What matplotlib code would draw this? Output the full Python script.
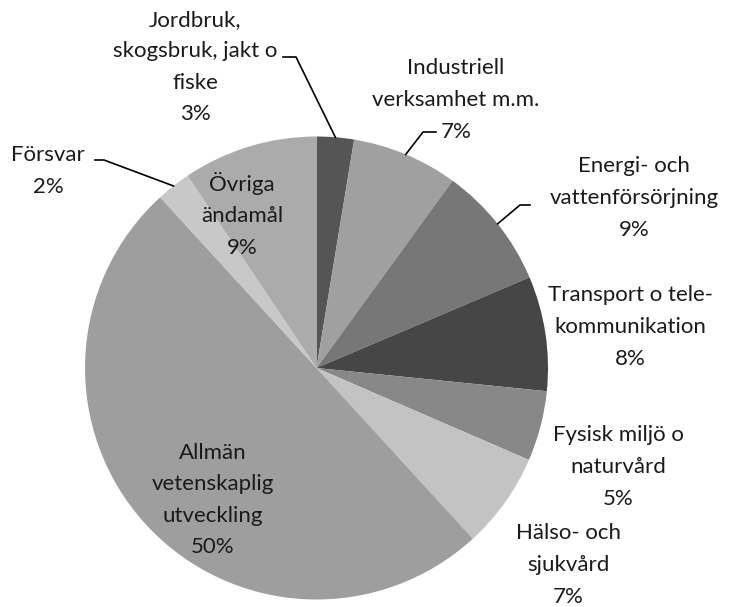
import numpy as np
import matplotlib.pyplot as plt

labels = ["Jordbruk,\nskogsbruk, jakt o\nfiske", "Industriell\nverksamhet m.m.",
          "Energi- och\nvattenförsörjning", "Transport o tele-\nkommunikation",
          "Fysisk miljö o\nnaturvård", "Hälso- och\nsjukvård",
          "Allmän\nvetenskaplig\nutveckling", "Försvar", "Övriga\nändamål"]
values = [2.6, 7.4, 8.6, 8.0, 4.9, 6.7, 50.0, 2.4, 9.4]
colors = ["#555555", "#a0a0a0", "#777777", "#464646", "#888888",
          "#c3c3c3", "#9e9e9e", "#c8c8c8", "#ababab"]

W, H = 729, 607
cx, cy, R = 316.5, 368, 231.5

def px(x, y):
    return (x - cx) / R, (cy - y) / R

# label centre (px) and optional leader (x start, x end, y) in px
label_pos = [(195, 67), (456, 100), (634, 198), (630, 327), (618, 467),
             (568, 565), (213, 500), (48, 171), (242, 215)]
leaders = {0: (283, 296, 57), 1: (436, 423, 132), 2: (530, 520, 205), 7: (95, 104, 160)}

plt.rcParams['font.family'] = ['Lato', 'DejaVu Sans']
fig = plt.figure(figsize=(W / 100, H / 100), dpi=100)
ax = fig.add_axes([0, 0, 1, 1])
ax.pie(values, colors=colors, startangle=90, counterclock=False, radius=1,
       wedgeprops=dict(linewidth=0))
ax.set_xlim(-cx / R, (W - cx) / R)
ax.set_ylim(-(H - cy) / R, cy / R)
ax.set_aspect('equal')
ax.axis('off')

cum = np.cumsum([0] + values)
for i, (lab, v) in enumerate(zip(labels, values)):
    x, y = px(*label_pos[i])
    ax.text(x, y, f"{lab}\n{round(v)}%", ha='center', va='center',
            fontsize=16, color='#1a1a1a', linespacing=1.72)
    if i in leaders:
        mid = np.deg2rad((cum[i] + v / 2) / 100 * 360)
        ex, ey = np.sin(mid), np.cos(mid)
        x0, x1, yl = leaders[i]
        a = px(x0, yl)
        b = px(x1, yl)
        ax.plot([a[0], b[0], ex], [a[1], b[1], ey], color='black', lw=1.2)

fig.savefig("out.png", dpi=100)
